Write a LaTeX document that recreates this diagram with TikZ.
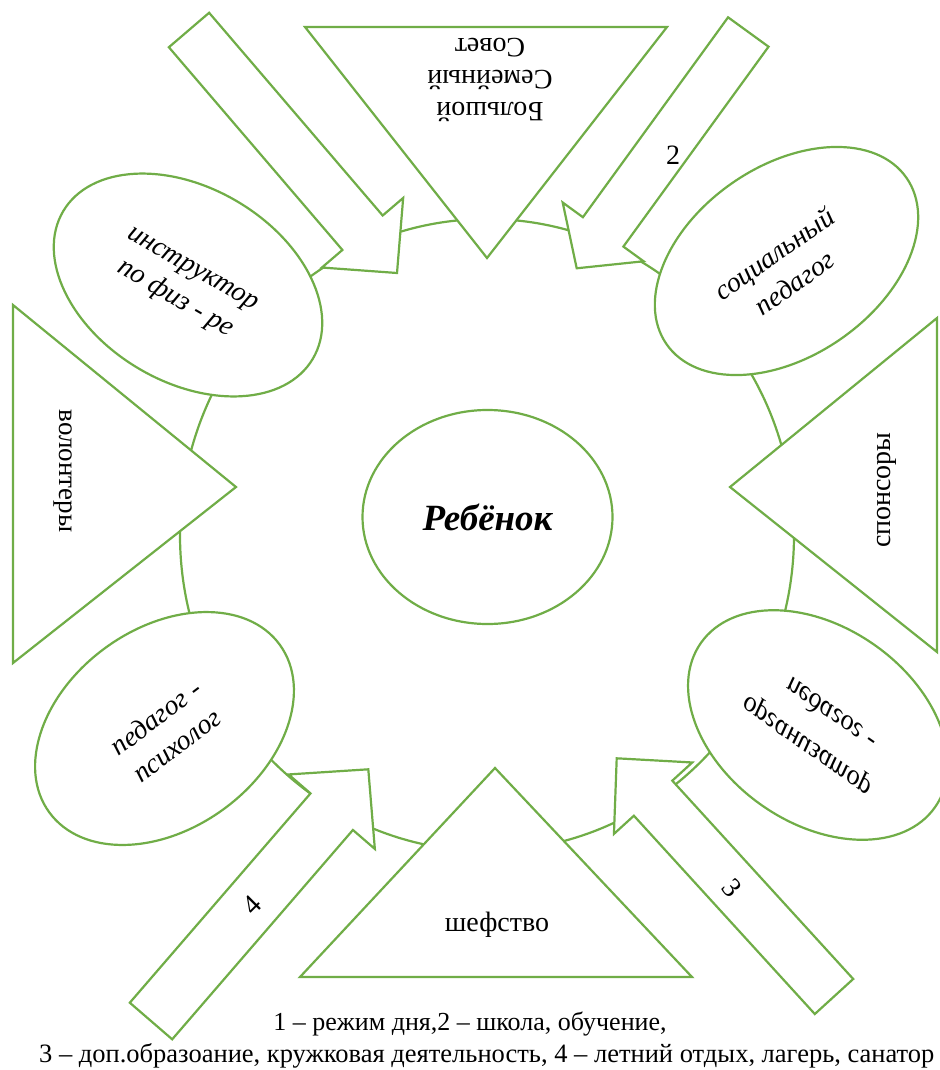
\documentclass[tikz,border=0pt]{standalone}
\usepackage{fontspec}
\setmainfont{Liberation Serif}
\usetikzlibrary{calc,shapes.geometric}
\definecolor{lgreen}{HTML}{70AD47}
\newcommand\blockarr[6]{%
  \coordinate (#1T) at #2;
  \coordinate (#1P) at #3;
  \coordinate (#1S) at ($(#1P)!#6!(#1T)$);
  \draw[shp] ($(#1T)!#4!90:(#1P)$) -- ($(#1S)!#4!90:(#1P)$) -- ($(#1S)!#5!90:(#1P)$) -- (#1P)
     -- ($(#1S)!#5!-90:(#1P)$) -- ($(#1S)!#4!-90:(#1P)$) -- ($(#1T)!#4!-90:(#1P)$) -- cycle;}
\begin{document}
\begin{tikzpicture}[x=1pt,y=-1pt,
  shp/.style={draw=lgreen, line width=2.2pt, fill=white, line join=miter},
  ell/.style={shp, ellipse, inner sep=0pt, outer sep=0pt},
  txt/.style={font=\fontsize{28}{32}\selectfont, align=center, inner sep=0pt},
  itx/.style={font=\fontsize{28}{35}\selectfont\itshape, align=center, inner sep=0pt},
  num/.style={font=\fontsize{28}{32}\selectfont, inner sep=0pt},
  leg/.style={font=\fontsize{26}{30}\selectfont, inner sep=0pt}]
\useasboundingbox (0,0) rectangle (939,1070);
% big ring
\node[ell, fill=none, minimum width=614pt, minimum height=632pt] (ring) at (487,535) {};
% block arrows
\blockarr{aone}{(189,30)}{(397,273)}{26.5pt}{53.5pt}{53pt}
\blockarr{atwo}{(748.3,32)}{(576.7,268.3)}{25pt}{50pt}{45pt}
\blockarr{afour}{(151,1021)}{(368.3,769.3)}{28pt}{57pt}{56pt}
\blockarr{athree}{(834,996.5)}{(616.7,758.3)}{26pt}{53pt}{54pt}
% triangles
\draw[shp] (305,27) -- (667,27) -- (487,258) -- cycle;
\draw[shp] (13,305) -- (236,487) -- (13,663) -- cycle;
\draw[shp] (937,318) -- (730,487) -- (937,652) -- cycle;
\draw[shp] (495,768) -- (692,977) -- (300,977) -- cycle;
% ellipses
\node[ell, rotate=-30.6, minimum width=290pt, minimum height=194pt] (instr) at (188,285) {};
\node[ell, rotate=34.7, minimum width=292pt, minimum height=190pt] (socp) at (786.5,261) {};
\node[ell, rotate=36, minimum width=285pt, minimum height=200pt] (psy) at (164.5,728.5) {};
\node[ell, rotate=-35, minimum width=286pt, minimum height=196pt] (org) at (818,725) {};
\node[ell, minimum width=250pt, minimum height=214pt] (child) at (487.5,517)
  {\fontsize{37}{40}\selectfont\bfseries\itshape Ребёнок};
% texts
\node[txt, rotate=180] (bsc) at (490,80) {Большой\\Семейный\\Совет};
\node[txt, rotate=-90, font=\fontsize{27}{30}\selectfont] (vol) at (63,471) {волонтеры};
\node[txt, rotate=90] (spo) at (887,490) {спонсоры};
\node[txt] (shef) at (497,925) {шефство};
\node[itx, rotate=-30] (instrt) at (183,286) {инструктор\\по физ - ре};
\node[itx, rotate=35] (socpt) at (784,268) {социальный\\педагог};
\node[itx, rotate=37] (psyt) at (166,731) {педагог -\\психолог};
\node[itx, rotate=-35, yscale=-1] (orgt1) at (830,715) {педагог -};
\node[itx, rotate=-35, yscale=-1] (orgt2) at (809,743) {организатор};
% arrow numbers
\node[num] (ntwo) at (673,155) {2};
\node[num, rotate=45] (nfour) at (252,905) {4};
\node[num, rotate=-50] (nthree) at (732,888) {3};
% legend
\node[leg] (leg1) at (470,1024) {1 – режим дня,2 – школа, обучение,};
\node[leg, anchor=west, font=\fontsize{26.5}{30}\selectfont] (leg2) at (39,1056) {3 – доп.образоание, кружковая деятельность, 4 – летний отдых, лагерь, санатор};
\end{tikzpicture}
\end{document}
